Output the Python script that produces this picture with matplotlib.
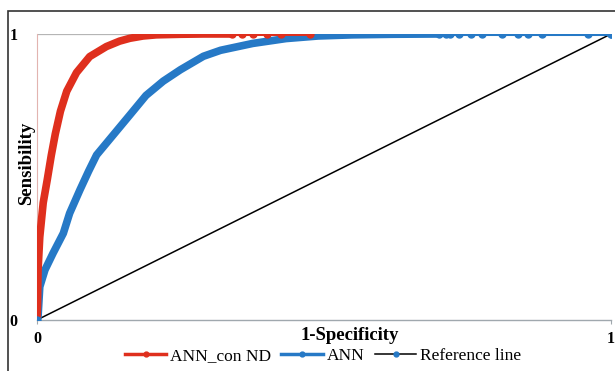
import matplotlib
matplotlib.use("Agg")
from matplotlib import pyplot as plt
from matplotlib.lines import Line2D
from matplotlib.patches import Rectangle

# ROC points (1-specificity, sensitivity)
red_fpr = [0, 0.001, 0.002, 0.005, 0.011, 0.018, 0.025, 0.032, 0.041, 0.052, 0.069, 0.092,
           0.121, 0.144, 0.162, 0.185, 0.208, 0.25, 0.29, 0.34,
           0.357, 0.376, 0.40, 0.426, 0.475]
red_tpr = [0, 0.05, 0.175, 0.29, 0.41, 0.49, 0.575, 0.65, 0.73, 0.80, 0.865, 0.921,
           0.956, 0.975, 0.985, 0.993, 0.997, 0.999, 1, 1,
           1, 1, 1, 1, 1]
red_dense = 20  # points after this are spaced out, drawn as dots

blue_fpr = [0, 0.002, 0.005, 0.014, 0.028, 0.046, 0.057, 0.075, 0.09, 0.104, 0.133,
            0.162, 0.19, 0.22, 0.25, 0.29, 0.32, 0.376, 0.434, 0.49, 0.55, 0.62, 0.70,
            0.713, 0.72, 0.736, 0.757, 0.776, 0.81, 0.838, 0.855, 0.88, 0.96, 1.0]
blue_tpr = [0, 0.012, 0.116, 0.175, 0.233, 0.303, 0.373, 0.455, 0.52, 0.577, 0.647,
            0.717, 0.785, 0.835, 0.875, 0.922, 0.943, 0.967, 0.984, 0.993, 0.997, 0.999, 1,
            1, 1, 1, 1, 1, 1, 1, 1, 1, 1, 1]
blue_dense = 23

ref_x = [0, 1]
ref_y = [0, 1]

labels = ["ANN_con ND", "ANN", "Reference line"]
red = "#df2f1d"
blue = "#2679c6"

plt.rcParams["font.family"] = ["Liberation Serif", "DejaVu Serif"]

fig = plt.figure(figsize=(6.15, 3.71), dpi=100)
ax = fig.add_axes([0.060, 0.1375, 0.9335, 0.7709])

ax.axhline(1, color="#b5b5b5", lw=0.9, zorder=1)
ax.plot(ref_x, ref_y, color="black", lw=1.1, zorder=2)

ax.plot(blue_fpr[:blue_dense], blue_tpr[:blue_dense], color=blue, lw=5.5,
        solid_capstyle="round", solid_joinstyle="round", zorder=3)
ax.plot(blue_fpr[blue_dense - 1:], blue_tpr[blue_dense - 1:], color=blue, lw=2.2,
        marker="o", ms=5, zorder=3)

ax.plot(red_fpr[:red_dense], red_tpr[:red_dense], color=red, lw=5.5,
        solid_capstyle="round", solid_joinstyle="round", zorder=4)
ax.plot(red_fpr[red_dense - 1:], red_tpr[red_dense - 1:], color=red, lw=2.2,
        marker="o", ms=5, zorder=4)

ax.plot(ref_x, ref_y, ls="none", marker="o", ms=5, color=blue, zorder=5)

ax.set_xlim(0, 1)
ax.set_ylim(0, 1)
ax.set_xticks([0, 1])
ax.set_yticks([0, 1])
ax.set_xticklabels(["0", "1"], fontweight="bold", fontsize=11.5)
ax.set_yticklabels(["0", "1"], fontweight="bold", fontsize=11.5)
ax.tick_params(axis="y", length=0, pad=14)
ax.tick_params(axis="x", length=3, color="#a0a8ae", pad=5)
for s in ["top", "right"]:
    ax.spines[s].set_visible(False)
ax.spines["left"].set_color("#e2b4b0")
ax.spines["left"].set_linewidth(0.8)
ax.spines["bottom"].set_color("#a0a8ae")
ax.spines["bottom"].set_linewidth(1.0)
ax.patch.set_alpha(0)

fig.text(350 / 615, 1 - 336 / 371, "1-Specificity", ha="center", va="center",
         fontweight="bold", fontsize=13.5)
fig.text(27 / 615, 1 - 163 / 371, "Sensibility", ha="center", va="center",
         rotation=90, fontweight="bold", fontsize=13.5)

handles = [
    Line2D([], [], color=red, lw=2.5, marker="o", ms=3.5),
    Line2D([], [], color=blue, lw=2.5, marker="o", ms=3.5),
    Line2D([], [], color="black", lw=1.1, marker="o", ms=3.5,
           markerfacecolor=blue, markeredgecolor=blue),
]
fig.legend(handles, labels, loc="center", bbox_to_anchor=(0.525, 1 - 356 / 371),
           ncol=3, frameon=False, fontsize=12.5, handlelength=2.4,
           handletextpad=0.2, columnspacing=0.6)

fig.patches.append(Rectangle((8 / 615, -0.05), 1.1, 1 - 11 / 371 + 0.05,
                             transform=fig.transFigure, fill=False,
                             edgecolor="#333333", lw=1.2))

fig.savefig("out.png", dpi=100)
